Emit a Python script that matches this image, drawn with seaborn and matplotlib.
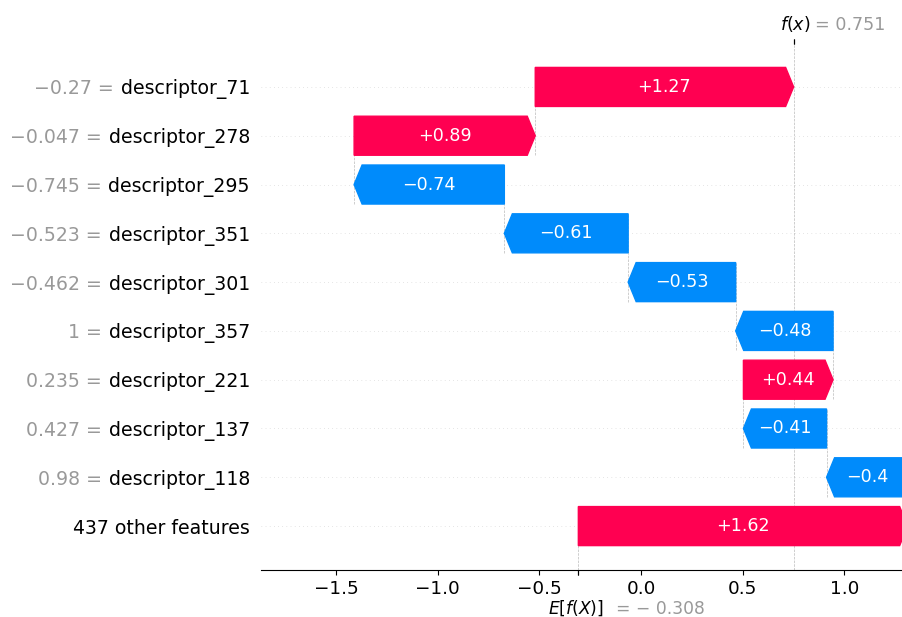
import re
import matplotlib
matplotlib.use("Agg")
import matplotlib.pyplot as plt
import matplotlib.transforms as mtransforms
import numpy as np
import seaborn as sns

# SHAP waterfall data, top row first
feature_names = ["descriptor_71", "descriptor_278", "descriptor_295", "descriptor_351",
                 "descriptor_301", "descriptor_357", "descriptor_221", "descriptor_137",
                 "descriptor_118"]
feature_values = [-0.27, -0.047, -0.745, -0.523, -0.462, 1.0, 0.235, 0.427, 0.98]
shap_values = [1.271, 0.891, -0.739, -0.609, -0.529, -0.479, 0.441, -0.409, -0.399]
other_count = 437
other_value = 1.620
base_value = -0.308
fx = 0.751

red = "#ff0051"
blue = "#008bfb"
label_size = 13.6
small_size = 12.6


def format_value(v, fmt):
    """format like shap does: strip trailing zeros, use a real minus sign"""
    s = fmt % v
    s = re.sub(r"\.?0+$", "", s)
    if s[0] == "-":
        s = "\u2212" + s[1:]
    return s


sns.set_style("ticks", {"axes.edgecolor": "black", "text.color": "black",
                        "xtick.color": "black", "ytick.color": "black"})
plt.rcParams["font.family"] = ["DejaVu Sans"]

fig = plt.figure(figsize=(9.03, 6.17), dpi=100)
ax = fig.add_axes([261 / 903, 47 / 617, 642 / 903, 526 / 617])
xmin, xmax = -1.869, 1.289
ax.set_xlim(xmin, xmax)
ax.set_ylim(-0.9, 9.88)

num_features = len(feature_names) + 1
bar_width = 0.8
head_length = 0.08  # inches
bbox = ax.get_window_extent().transformed(fig.dpi_scale_trans.inverted())
hl_scaled = (xmax - xmin) / bbox.width * head_length

# bars from the bottom up: other features first, then individual features
values_up = [other_value] + shap_values[::-1]
rows_up = list(range(num_features))
starts = base_value + np.concatenate([[0], np.cumsum(values_up)[:-1]])

for row, start, val in zip(rows_up, starts, values_up):
    dist = abs(val)
    sign = 1 if val >= 0 else -1
    ax.arrow(start, row, sign * max(dist - hl_scaled, 1e-6), 0,
             head_length=min(dist, hl_scaled), width=bar_width,
             head_width=bar_width, color=red if val >= 0 else blue)
    ax.text(start + val / 2, row, format_value(val, "%+0.02f"),
            ha="center", va="center", color="white", fontsize=small_size)

# dashed connectors between consecutive bars
for row, start in zip(rows_up[1:], starts[1:]):
    ax.plot([start, start], [row - 1 - 0.4, row + 0.4], color="#bbbbbb",
            linestyle="--", linewidth=0.5, zorder=-1)

for i in range(num_features):
    ax.axhline(i, color="#cccccc", lw=0.5, dashes=(1, 5), zorder=-1)

ax.axvline(base_value, 0, 1 / num_features, color="#bbbbbb", linestyle="--",
           linewidth=0.5, zorder=-1)
ax.axvline(fx, 0, 1, color="#bbbbbb", linestyle="--", linewidth=0.5, zorder=-1)

# y labels: black feature names as ticks, gray "value =" placed just left of them
pad = 8
ax.set_yticks(rows_up)
ax.set_yticklabels(["%d other features" % other_count] + feature_names[::-1],
                   fontsize=label_size)
ax.tick_params(axis="y", length=0, pad=pad)
ax.tick_params(axis="x", labelsize=13.2, pad=3.8)
ax.set_xticks([-1.5, -1.0, -0.5, 0.0, 0.5, 1.0])
sns.despine(ax=ax, left=True)

fig.canvas.draw()
renderer = fig.canvas.get_renderer()
space_pt = 0.36 * label_size
tick_labels = ax.yaxis.get_majorticklabels()
for row, lab, v in zip(rows_up[1:], tick_labels[1:], feature_values[::-1]):
    w_pt = lab.get_window_extent(renderer).width * 72 / fig.dpi
    ax.annotate(format_value(v, "%0.03f") + " =", xy=(0, row),
                xycoords=ax.get_yaxis_transform(),
                xytext=(-(pad + w_pt + space_pt), 0), textcoords="offset points",
                ha="right", va="center_baseline", color="#999999", fontsize=label_size)

# E[f(X)] label under the axis
ax2 = ax.twiny()
ax2.set_xlim(xmin, xmax)
ax2.xaxis.tick_bottom()
ax2.set_xticks([base_value, base_value + 1e-8])
base_txt = format_value(base_value, "%0.03f").replace("\u2212", "\u2212 ")
ax2.set_xticklabels(["$E[f(X)]$", "= " + base_txt], fontsize=12.3, ha="left")
labels2 = ax2.xaxis.get_majorticklabels()
labels2[0].set_transform(labels2[0].get_transform()
                         + mtransforms.ScaledTranslation(-0.30, -0.19, fig.dpi_scale_trans))
labels2[1].set_transform(labels2[1].get_transform()
                         + mtransforms.ScaledTranslation(0.38, -0.20, fig.dpi_scale_trans))
labels2[1].set_color("#999999")
for s in ax2.spines.values():
    s.set_visible(False)

# f(x) label on top
ax3 = ax.twiny()
ax3.set_xlim(xmin, xmax)
ax3.xaxis.tick_top()
ax3.set_xticks([fx, fx + 1e-8])
ax3.set_xticklabels(["$f(x)$", "= " + format_value(fx, "%0.03f")],
                    fontsize=small_size, ha="left")
labels3 = ax3.xaxis.get_majorticklabels()
labels3[0].set_transform(labels3[0].get_transform()
                         + mtransforms.ScaledTranslation(-0.14, 0, fig.dpi_scale_trans))
labels3[1].set_transform(labels3[1].get_transform()
                         + mtransforms.ScaledTranslation(0.21, 0, fig.dpi_scale_trans))
labels3[1].set_color("#999999")
for s in ax3.spines.values():
    s.set_visible(False)

fig.savefig("out.png", dpi=100)
